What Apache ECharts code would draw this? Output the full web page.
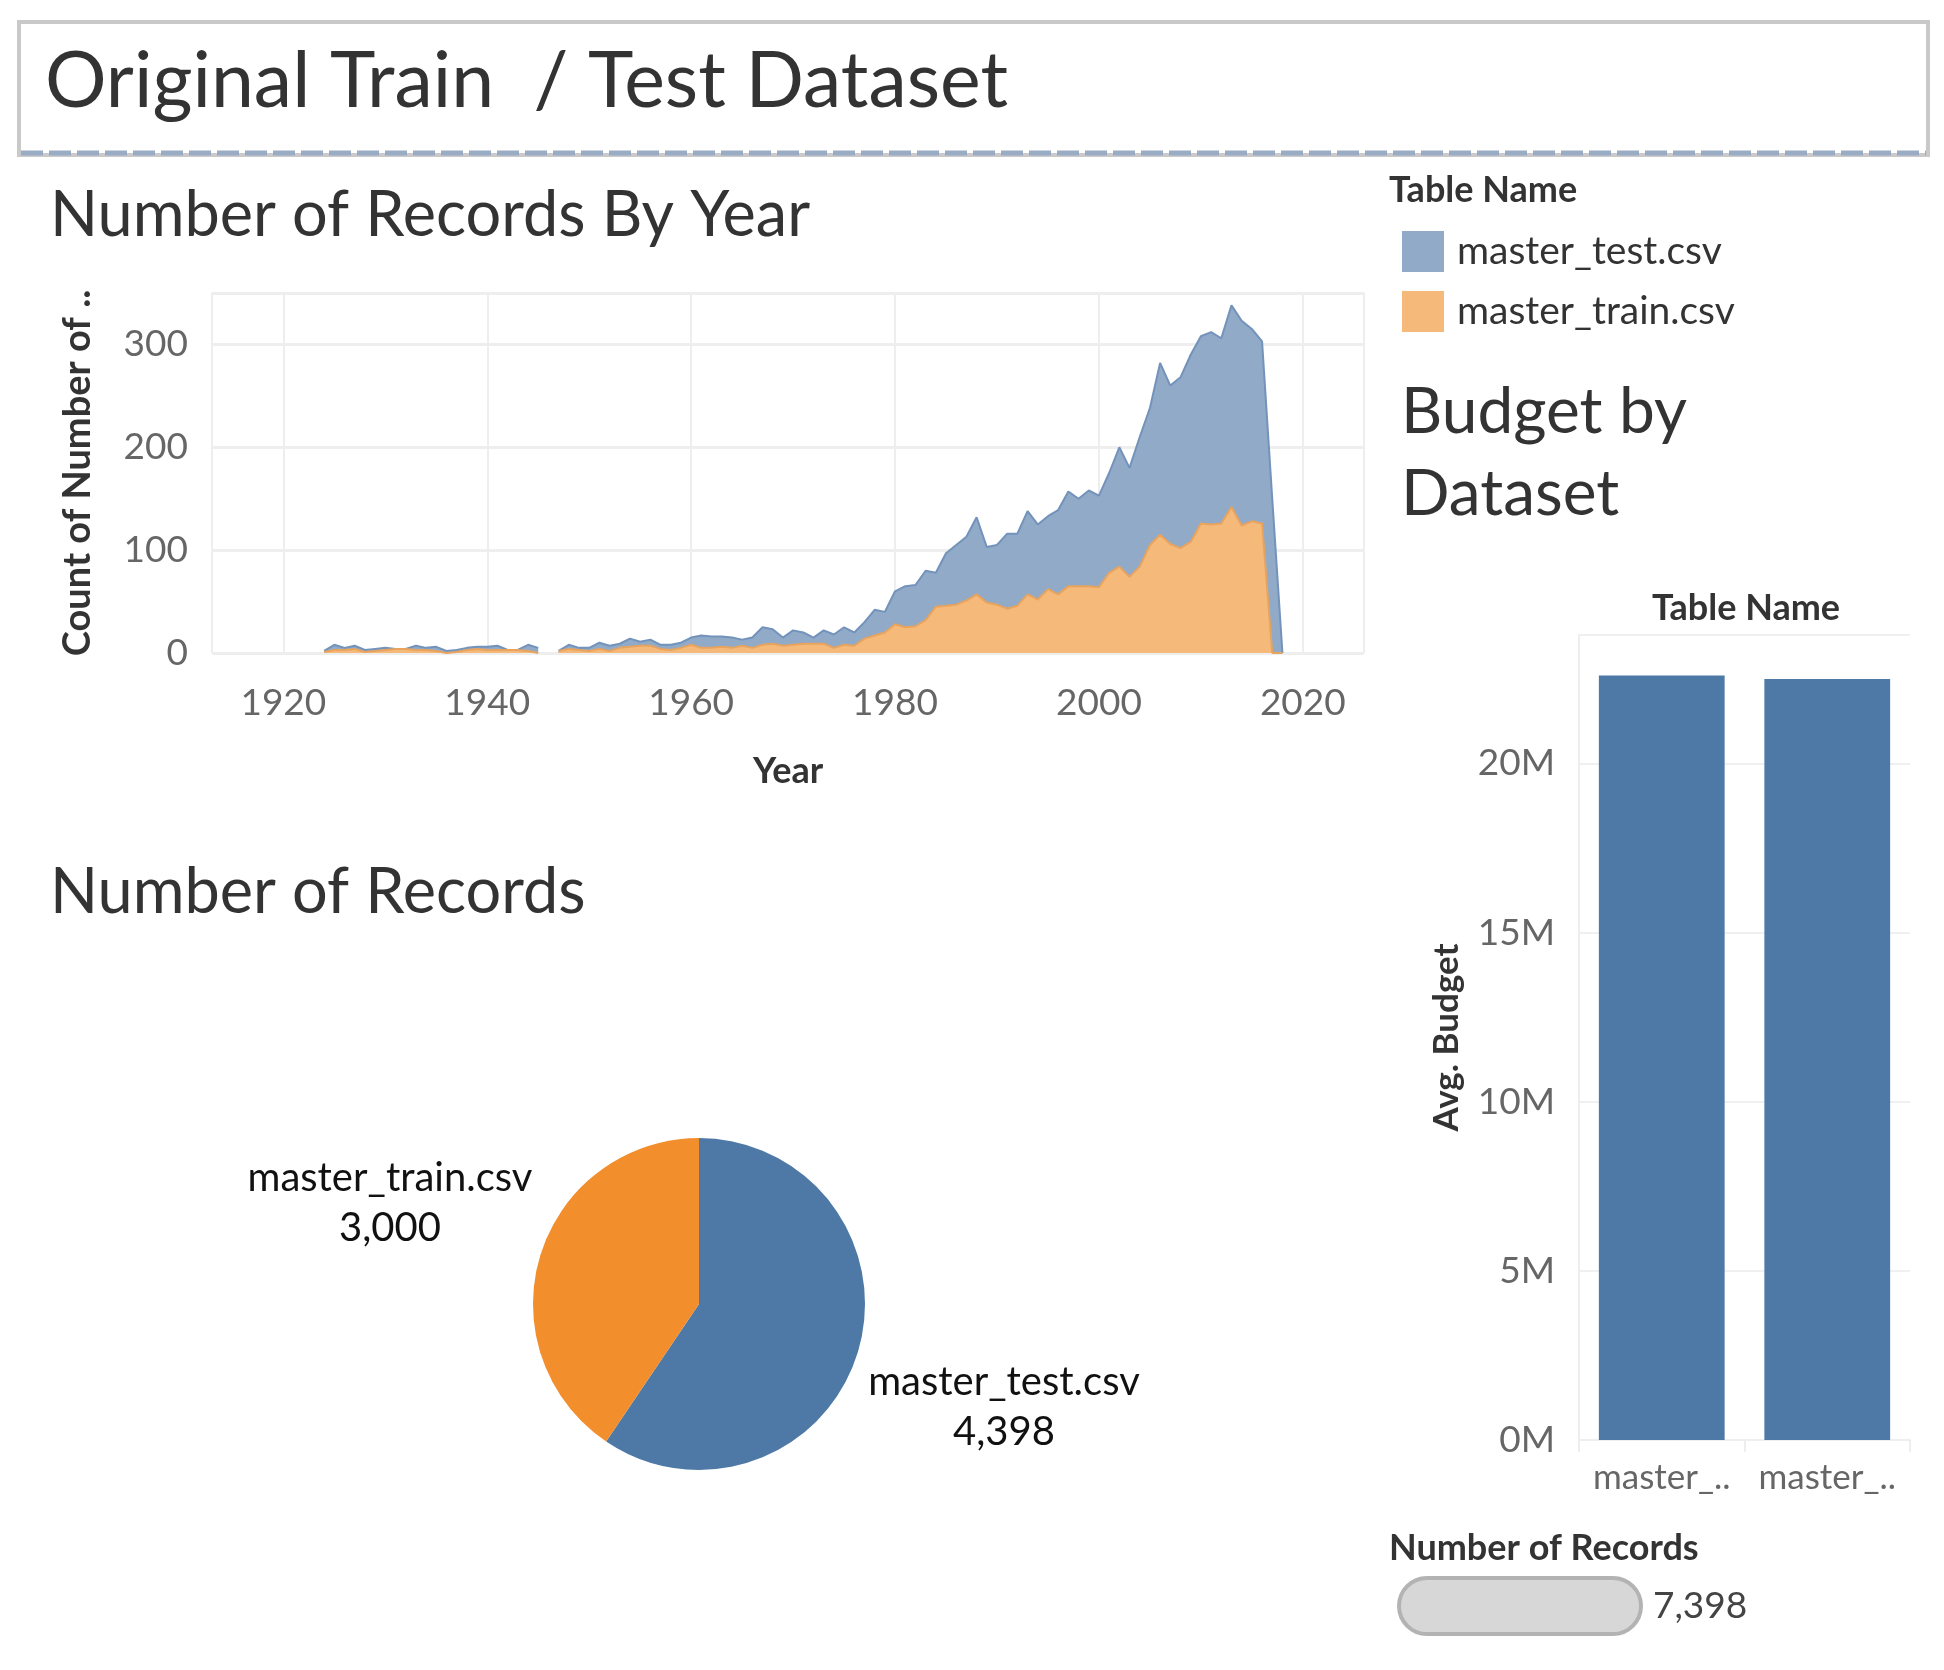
<!DOCTYPE html>
<html>
<head>
<meta charset="utf-8">
<title>Original Train / Test Dataset</title>
<script src="https://cdn.jsdelivr.net/npm/echarts@6/dist/echarts.min.js"></script>
<style>
	html, body { margin: 0; padding: 0; background: #fff; }
	#main { width: 1944px; height: 1670px; }
</style>
</head>
<body>
<div id="main"></div>
<script>
	// years 1921..2018, '-' = no records that year
	var years = []
	for (var y = 1921; y <= 2018; y++) years.push(y)
	// total records per year (test + train), drawn behind the train area
	var totalByYear = ['-',2,'-',2,8,5,7,3,4,5,4,4,7,5,6,2,3,5,6,6,7,3,3,8,5,'-',2,8,5,5,10,7,9,14,11,13,8,8,10,15,17,16,16,15,13,15,25,23,15,22,20,15,22,18,25,20,30,42,40,60,65,66,80,78,97,105,113,132,103,105,116,116,138,125,133,139,157,150,158,153,175,200,180,210,238,282,260,268,290,308,312,306,338,323,315,303,150,0]
	var trainByYear = ['-',0,'-',1,3,3,4,1,2,3,4,4,3,3,2,0,1,3,4,3,3,3,3,2,0,'-',2,4,3,2,4,2,5,6,7,7,4,3,5,8,5,5,6,5,7,5,8,9,7,8,9,9,9,5,8,7,14,17,20,28,25,26,32,45,46,47,51,57,49,47,43,46,57,52,62,57,65,65,65,64,78,84,74,84,105,115,106,102,108,126,125,126,142,124,128,126,0,0]
	var pieNames = ['master_test.csv', 'master_train.csv']
	var pieValues = [4398, 3000]
	var budgetNames = ['master_test.csv', 'master_train.csv']
	var budgetValues = [22.6, 22.5] // millions
	var totalRecords = 7398

	var chart = echarts.init(document.getElementById('main'))
	var option = {
		animation: false,
		textStyle: { fontFamily: 'Lato' },
		graphic: [
			{ type: 'rect', shape: { x: 19, y: 22, width: 1909, height: 133 }, style: { fill: '#fff', stroke: '#c9c9c9', lineWidth: 4 } },
			{ type: 'line', shape: { x1: 21, y1: 153, x2: 1926, y2: 153 }, style: { stroke: '#9aabc4', lineWidth: 5, lineDash: [22, 6] } },
			{ type: 'text', left: 45, top: 44, style: { text: 'Original Train  / Test Dataset', font: '77px Lato', fill: '#333' } },
			{ type: 'text', left: 50, top: 184, style: { text: 'Number of Records By Year', font: '63px Lato', fill: '#333' } },
			{ type: 'text', left: 50, top: 861, style: { text: 'Number of Records', font: '63px Lato', fill: '#333' } },
			{ type: 'text', left: 1401, top: 380, style: { text: 'Budget by', font: '64px Lato', fill: '#333' } },
			{ type: 'text', left: 1401, top: 462, style: { text: 'Dataset', font: '64px Lato', fill: '#333' } },
			{ type: 'text', x: 1746, y: 608, style: { text: 'Table Name', font: 'bold 36px Lato', fill: '#333', align: 'center', verticalAlign: 'middle' } },
			{ type: 'text', left: 1389, top: 1530, style: { text: 'Number of Records', font: 'bold 36px Lato', fill: '#333' } },
			{ type: 'text', left: 1389, top: 172, style: { text: 'Table Name', font: 'bold 36px Lato', fill: '#333' } }
		],
		legend: {
			left: 1397, top: 226, orient: 'vertical',
			itemWidth: 42, itemHeight: 41, itemGap: 19,
			icon: 'rect',
			textStyle: { fontSize: 39, color: '#333', padding: [0, 0, 0, 8] },
			data: ['master_test.csv', 'master_train.csv']
		},
		grid: [
			{ left: 212, top: 293, width: 1152, height: 360 },
			{ left: 1579, top: 635, width: 331, height: 805 },
			{ left: 1397, top: 1578, width: 246, height: 56 }
		],
		xAxis: [
			{
				gridIndex: 0, type: 'value', min: 1913, max: 2026,
				name: 'Year', nameLocation: 'middle', nameGap: 100,
				nameTextStyle: { fontSize: 36, color: '#333', fontWeight: 'bold' },
				axisLine: { show: false }, axisTick: { show: false },
				axisLabel: {
					fontSize: 37, color: '#666', margin: 32,
					customValues: [1920, 1940, 1960, 1980, 2000, 2020],
					formatter: function(v) { return String(v) }
				},
				splitLine: { show: true, lineStyle: { color: '#eeeeee', width: 2 } }
			},
			{
				gridIndex: 1, type: 'category', data: budgetNames,
				axisLine: { lineStyle: { color: '#eeeeee', width: 2 } },
				axisTick: { show: true, length: 12, lineStyle: { color: '#eeeeee', width: 2 } },
				axisLabel: {
					fontSize: 35, color: '#666', margin: 20, interval: 0,
					formatter: function(v) { return v.slice(0, 7) + '..' }
				}
			},
			{ gridIndex: 2, type: 'value', min: 0, max: totalRecords, show: false }
		],
		yAxis: [
			{
				gridIndex: 0, type: 'value', min: 0, max: 350, interval: 100,
				name: 'Count of Number of ..', nameLocation: 'middle', nameGap: 115,
				nameTextStyle: { fontSize: 38, color: '#333', fontWeight: 'bold' },
				axisLine: { show: false }, axisTick: { show: false },
				axisLabel: { fontSize: 37, color: '#666', margin: 24, showMaxLabel: false },
				splitLine: { lineStyle: { color: '#eeeeee', width: 3 } }
			},
			{
				gridIndex: 1, type: 'value', min: 0, max: 23.8, interval: 5,
				name: 'Avg. Budget', nameLocation: 'middle', nameGap: 115,
				nameTextStyle: { fontSize: 35, color: '#333', fontWeight: 'bold' },
				axisLine: { show: true, lineStyle: { color: '#eeeeee', width: 2 } },
				axisTick: { show: false },
				axisLabel: {
					fontSize: 37, color: '#666', margin: 24, showMaxLabel: false,
					formatter: function(v) { return v + 'M' }
				},
				splitLine: { lineStyle: { color: '#f0f0f0', width: 2 } }
			},
			{ gridIndex: 2, type: 'category', data: ['all'], show: false }
		],
		series: [
			{
				name: 'master_test.csv', type: 'line', xAxisIndex: 0, yAxisIndex: 0,
				symbol: 'none', connectNulls: false,
				data: years.map(function(y, i) { return [y, totalByYear[i]] }),
				color: '#90aac8',
				lineStyle: { color: '#7393bb', width: 2 },
				areaStyle: { color: '#90aac8', opacity: 1 }
			},
			{
				name: 'master_train.csv', type: 'line', xAxisIndex: 0, yAxisIndex: 0,
				symbol: 'none', connectNulls: false,
				data: years.map(function(y, i) { return [y, trainByYear[i]] }),
				color: '#f5b97a',
				lineStyle: { color: '#e8a45e', width: 2 },
				areaStyle: { color: '#f5b97a', opacity: 1 }
			},
			{
				type: 'pie', center: [699, 1304], radius: [0, 166], startAngle: 90,
				data: pieNames.map(function(n, i) {
					return { name: n, value: pieValues[i], itemStyle: { color: i === 0 ? '#4e79a7' : '#f28e2b' } }
				}),
				label: {
					position: 'outside', fontSize: 40, color: '#111', lineHeight: 50, align: 'center',
					formatter: function(p) { return p.name + '\n' + p.value.toLocaleString('en-US') }
				},
				labelLine: { show: false },
				labelLayout: function(p) {
					return p.dataIndex === 0
						? { x: 1004, y: 1407, align: 'center', verticalAlign: 'middle' }
						: { x: 390, y: 1203, align: 'center', verticalAlign: 'middle' }
				}
			},
			{
				type: 'bar', xAxisIndex: 1, yAxisIndex: 1, barCategoryGap: '24%',
				data: budgetValues, itemStyle: { color: '#4e79a7' }
			},
			{
				type: 'bar', xAxisIndex: 2, yAxisIndex: 2, barWidth: 70,
				data: [totalRecords],
				itemStyle: { color: '#d7d7d7', borderColor: '#b3b3b3', borderWidth: 4, borderRadius: 28 },
				label: {
					show: true, position: 'right', fontSize: 37, color: '#444', distance: 10,
					formatter: function(p) { return p.value.toLocaleString('en-US') }
				}
			}
		]
	}
	chart.setOption(option)
</script>
</body>
</html>
